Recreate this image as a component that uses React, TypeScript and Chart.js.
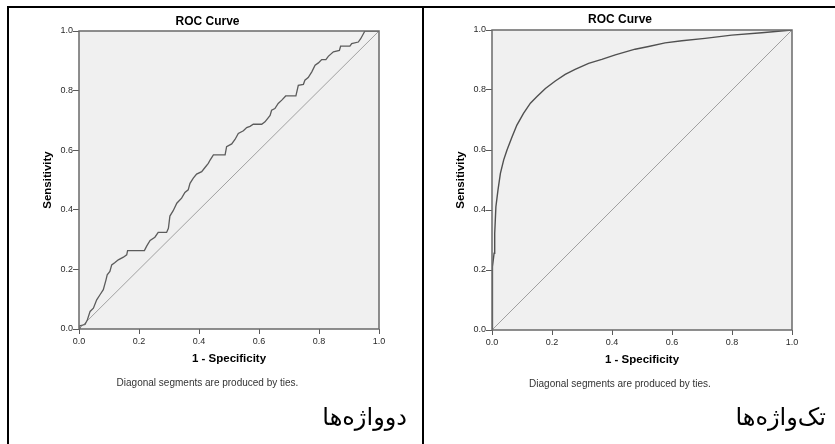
import React, { useEffect, useRef } from "react";
import { Chart, registerables } from "chart.js";

Chart.register(...registerables);

// ---------- text ----------
const CHART_TITLE = "ROC Curve";
const X_TITLE = "1 - Specificity";
const Y_TITLE = "Sensitivity";
const FOOTNOTE = "Diagonal segments are produced by ties.";
const LEFT_CAPTION = "دوواژه‌ها";
const RIGHT_CAPTION = "تک‌واژه‌ها";

// ---------- axis ticks ----------
const AXIS_MIN = 0;
const AXIS_MAX = 1;
const TICK_STEP = 0.2;

// ---------- reference (diagonal) line ----------
const diagX = [0, 1];
const diagY = [0, 1];

// ---------- left panel (دوواژه‌ها) ----------
const leftFpr = [0, 0.003, 0.02, 0.028, 0.037, 0.048, 0.059, 0.07, 0.081, 0.09, 0.094, 0.103, 0.109, 0.12, 0.131, 0.148, 0.159, 0.162, 0.218, 0.226, 0.237, 0.253, 0.264, 0.292, 0.298, 0.303, 0.314, 0.326, 0.342, 0.353, 0.364, 0.37, 0.381, 0.392, 0.409, 0.42, 0.431, 0.437, 0.448, 0.487, 0.492, 0.509, 0.52, 0.531, 0.548, 0.559, 0.57, 0.581, 0.609, 0.62, 0.637, 0.642, 0.653, 0.664, 0.676, 0.689, 0.723, 0.731, 0.748, 0.753, 0.764, 0.776, 0.787, 0.798, 0.809, 0.823, 0.831, 0.848, 0.868, 0.872, 0.903, 0.909, 0.931, 0.939, 0.948, 0.953, 1];
const leftTpr = [0, 0.011, 0.015, 0.031, 0.059, 0.07, 0.098, 0.115, 0.132, 0.165, 0.182, 0.193, 0.215, 0.223, 0.232, 0.241, 0.249, 0.263, 0.263, 0.279, 0.297, 0.308, 0.324, 0.324, 0.338, 0.379, 0.397, 0.422, 0.439, 0.458, 0.467, 0.489, 0.506, 0.52, 0.528, 0.542, 0.556, 0.567, 0.584, 0.584, 0.612, 0.621, 0.636, 0.656, 0.665, 0.676, 0.68, 0.687, 0.687, 0.695, 0.717, 0.734, 0.74, 0.757, 0.768, 0.782, 0.782, 0.818, 0.821, 0.835, 0.844, 0.863, 0.885, 0.893, 0.904, 0.904, 0.915, 0.93, 0.935, 0.949, 0.949, 0.958, 0.963, 0.974, 0.991, 1, 1];

// ---------- right panel (تک‌واژه‌ها) ----------
const rightFpr = [0, 0, 0.003, 0.007, 0.009, 0.013, 0.02, 0.028, 0.039, 0.05, 0.067, 0.083, 0.105, 0.128, 0.15, 0.178, 0.211, 0.244, 0.277, 0.322, 0.366, 0.411, 0.477, 0.522, 0.577, 0.633, 0.71, 0.799, 0.899, 1];
const rightTpr = [0, 0.133, 0.211, 0.256, 0.322, 0.411, 0.467, 0.522, 0.567, 0.6, 0.644, 0.683, 0.722, 0.756, 0.778, 0.805, 0.83, 0.852, 0.869, 0.889, 0.902, 0.917, 0.936, 0.945, 0.957, 0.964, 0.972, 0.983, 0.991, 1];

const FONT = "'Liberation Sans', Arial, Helvetica, sans-serif";

const framePlugin = {
  id: "rocFrame",
  beforeDraw(chart: any) {
    const { ctx, chartArea: a } = chart;
    ctx.save();
    ctx.fillStyle = "#f0f0f0";
    ctx.fillRect(a.left, a.top, a.right - a.left, a.bottom - a.top);
    ctx.restore();
  },
  afterDatasetsDraw(chart: any) {
    const { ctx, chartArea: a } = chart;
    ctx.save();
    ctx.strokeStyle = "#6a6a6a";
    ctx.lineWidth = 1.5;
    ctx.strokeRect(a.left, a.top, a.right - a.left, a.bottom - a.top);
    ctx.restore();
  },
};

type PanelCfg = {
  fpr: number[];
  tpr: number[];
  width: number;
  height: number;
  padLeft: number;
  padRight: number;
  padBottom: number;
  yAxisWidth: number;
  yTitlePad: number;
  titlePadTop: number;
  titlePadBottom: number;
  curveColor: string;
  curveWidth: number;
};

function RocChart(props: PanelCfg) {
  const ref = useRef<HTMLCanvasElement | null>(null);
  useEffect(() => {
    if (!ref.current) return;
    const pts = props.fpr.map((x, i) => ({ x, y: props.tpr[i] }));
    const diag = diagX.map((x, i) => ({ x, y: diagY[i] }));
    const axisCommon = (isX: boolean) => ({
      type: "linear" as const,
      min: AXIS_MIN,
      max: AXIS_MAX,
      border: { display: false },
      grid: {
        display: true,
        drawOnChartArea: false,
        drawTicks: true,
        tickLength: isX ? 5 : 6,
        tickColor: "#5a5a5a",
        tickWidth: 1,
      },
      ticks: {
        stepSize: TICK_STEP,
        padding: isX ? 2 : 0,
        color: "#2a2a2a",
        font: { family: FONT, size: 9 },
        callback: (v: any) => Number(v).toFixed(1),
        maxRotation: 0,
        autoSkip: false,
      },
    });
    const chart = new Chart(ref.current, {
      type: "scatter",
      data: {
        datasets: [
          {
            data: diag,
            showLine: true,
            borderColor: "#a0a0a0",
            borderWidth: 1,
            pointRadius: 0,
            order: 2,
          },
          {
            data: pts,
            showLine: true,
            borderColor: props.curveColor,
            borderWidth: props.curveWidth,
            pointRadius: 0,
            tension: 0,
            order: 1,
          },
        ],
      },
      options: {
        animation: false,
        responsive: false,
        events: [],
        layout: {
          padding: {
            left: props.padLeft,
            right: props.padRight,
            top: 0,
            bottom: props.padBottom,
          },
        },
        plugins: {
          legend: { display: false },
          tooltip: { enabled: false },
          title: {
            display: true,
            text: CHART_TITLE,
            color: "#000",
            font: { family: FONT, size: 12, weight: "bold" },
            padding: { top: props.titlePadTop, bottom: props.titlePadBottom },
          },
          subtitle: {
            display: true,
            position: "bottom",
            text: FOOTNOTE,
            color: "#333",
            font: { family: FONT, size: 10, weight: "normal" },
            padding: { top: 8, bottom: 0 },
          },
        },
        scales: {
          x: {
            ...axisCommon(true),
            position: "bottom",
            title: {
              display: true,
              text: X_TITLE,
              color: "#000",
              font: { family: FONT, size: 11.5, weight: "bold" },
              padding: { top: 0, bottom: 3.4 },
            },
            afterFit: (s: any) => {
              s.height = 40;
            },
          },
          y: {
            ...axisCommon(false),
            position: "left",
            title: {
              display: true,
              text: Y_TITLE,
              color: "#000",
              font: { family: FONT, size: 11.5, weight: "bold" },
              padding: { top: props.yTitlePad, bottom: 0 },
            },
            afterFit: (s: any) => {
              s.width = props.yAxisWidth;
            },
          },
        },
      } as any,
      plugins: [framePlugin],
    });
    return () => chart.destroy();
  }, []);
  return <canvas ref={ref} width={props.width} height={props.height} style={{ display: "block" }} />;
}

const captionStyle: React.CSSProperties = {
  position: "absolute",
  fontFamily: "'DejaVu Sans', 'Noto Sans', sans-serif",
  fontSize: 24,
  color: "#000",
  direction: "rtl",
  textAlign: "right",
  whiteSpace: "nowrap",
  lineHeight: "28px",
};

export default function App() {
  return (
    <div
      style={{
        position: "fixed",
        left: 0,
        top: 0,
        width: 835,
        height: 444,
        overflow: "hidden",
        background: "#fff",
      }}
    >
      {/* table borders */}
      <div style={{ position: "absolute", left: 7, top: 6, width: 828, height: 2, background: "#000" }} />
      <div style={{ position: "absolute", left: 7, top: 6, width: 2, height: 438, background: "#000" }} />
      <div style={{ position: "absolute", left: 422, top: 6, width: 2, height: 438, background: "#000" }} />

      {/* left chart */}
      <div style={{ position: "absolute", left: 9, top: 9 }}>
        <RocChart
          fpr={leftFpr}
          tpr={leftTpr}
          width={400}
          height={435}
          padLeft={27}
          padRight={30}
          padBottom={55}
          yAxisWidth={43}
          yTitlePad={5.1}
          titlePadTop={5}
          titlePadBottom={2.6}
          curveColor="#5c5c5c"
          curveWidth={1.3}
        />
      </div>
      {/* right chart */}
      <div style={{ position: "absolute", left: 425, top: 9 }}>
        <RocChart
          fpr={rightFpr}
          tpr={rightTpr}
          width={395}
          height={435}
          padLeft={23}
          padRight={28}
          padBottom={54}
          yAxisWidth={44}
          yTitlePad={6.1}
          titlePadTop={3.3}
          titlePadBottom={3.3}
          curveColor="#505050"
          curveWidth={1.4}
        />
      </div>

      <div style={{ ...captionStyle, left: 200, width: 207, top: 403 }}>{LEFT_CAPTION}</div>
      <div style={{ ...captionStyle, left: 620, width: 206, top: 403 }}>{RIGHT_CAPTION}</div>
    </div>
  );
}
